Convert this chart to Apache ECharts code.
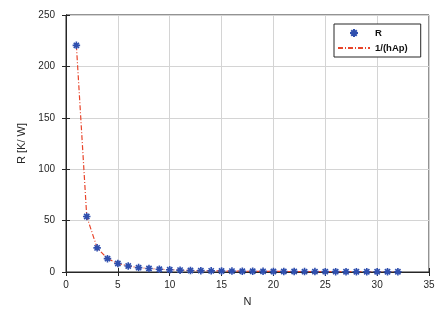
<!DOCTYPE html>
<html>
<head>
<meta charset="utf-8">
<script src="https://cdn.jsdelivr.net/npm/echarts@6/dist/echarts.min.js"></script>
<style>
html, body { margin: 0; padding: 0; background: #fff; }
#chart { width: 438px; height: 312px; }
</style>
</head>
<body>
<div id="chart"></div>
<script>
var nValues = [1, 2, 3, 4, 5, 6, 7, 8, 9, 10, 11, 12, 13, 14, 15, 16,
    17, 18, 19, 20, 21, 22, 23, 24, 25, 26, 27, 28, 29, 30, 31, 32];
var rMeasured = [220.5, 54, 23.5, 13, 8.3, 5.8, 4.3, 3.4, 2.7, 2.2, 1.8, 1.5, 1.3, 1.1, 1.0, 0.86,
    0.76, 0.68, 0.61, 0.55, 0.5, 0.46, 0.42, 0.38, 0.35, 0.33, 0.3, 0.28, 0.26, 0.25, 0.23, 0.22];
var rModel = [220.5, 54, 23.5, 13, 8.3, 5.8, 4.3, 3.4, 2.7, 2.2, 1.8, 1.5, 1.3, 1.1, 1.0, 0.86,
    0.76, 0.68, 0.61, 0.55, 0.5, 0.46, 0.42, 0.38, 0.35, 0.33, 0.3, 0.28, 0.26, 0.25, 0.23, 0.22];

var starPath = 'path://M0 5 L10 5 M5 0 L5 10 M1.5 1.5 L8.5 8.5 M1.5 8.5 L8.5 1.5';
var font = 'Liberation Sans, Arial, sans-serif';
var axisColor = '#262626';

function pairs(xs, ys) {
    return xs.map(function (x, i) { return [x, ys[i]]; });
}

var myChart = echarts.init(document.getElementById('chart'));
var option = {
    animation: false,
    textStyle: { fontFamily: font },
    grid: {
        left: 66,
        right: 9,
        top: 15,
        bottom: 38,
        show: true,
        borderColor: axisColor,
        borderWidth: 1
    },
    legend: {
        orient: 'vertical',
        left: 334,
        top: 24,
        padding: [4, 13, 4, 3],
        itemGap: 5,
        itemWidth: 32,
        itemHeight: 8,
        borderColor: axisColor,
        borderWidth: 1,
        backgroundColor: '#fff',
        textStyle: {
            fontFamily: font,
            fontSize: 9.5,
            fontWeight: 'bold',
            color: '#111'
        },
        data: [
            { name: 'R' },
            { name: '1/(hAp)', itemStyle: { opacity: 0 } }
        ]
    },
    xAxis: [{
        type: 'value',
        min: 0,
        max: 35,
        interval: 5,
        name: 'N',
        nameLocation: 'middle',
        nameGap: 24,
        nameTextStyle: { fontSize: 11, color: axisColor },
        axisLine: { show: true, lineStyle: { color: axisColor } },
        axisTick: { show: true, inside: true, length: 4, lineStyle: { color: axisColor } },
        axisLabel: { fontSize: 10, color: axisColor, margin: 8 },
        splitLine: { show: true, lineStyle: { color: '#d4d4d4' } }
    }, {
        type: 'value',
        position: 'top',
        min: 0,
        max: 35,
        interval: 5,
        axisLine: { show: true, lineStyle: { color: axisColor } },
        axisTick: { show: true, inside: true, length: 4, lineStyle: { color: axisColor } },
        axisLabel: { show: false },
        splitLine: { show: false }
    }],
    yAxis: [{
        type: 'value',
        min: 0,
        max: 250,
        interval: 50,
        name: 'R [K/ W]',
        nameLocation: 'middle',
        nameGap: 34,
        nameTextStyle: { fontSize: 11, color: axisColor },
        axisLine: { show: true, lineStyle: { color: axisColor } },
        axisTick: { show: true, inside: true, length: 4, lineStyle: { color: axisColor } },
        axisLabel: { fontSize: 10, color: axisColor, margin: 11 },
        splitLine: { show: true, lineStyle: { color: '#d4d4d4' } }
    }, {
        type: 'value',
        position: 'right',
        min: 0,
        max: 250,
        interval: 50,
        axisLine: { show: true, lineStyle: { color: axisColor } },
        axisTick: { show: true, inside: true, length: 4, lineStyle: { color: axisColor } },
        axisLabel: { show: false },
        splitLine: { show: false }
    }],
    series: [{
        name: '1/(hAp)',
        type: 'line',
        data: pairs(nValues, rModel),
        showSymbol: false,
        symbol: 'none',
        lineStyle: {
            color: '#e8442a',
            width: 1.2,
            type: [5, 2, 1, 2]
        },
        itemStyle: { color: '#e8442a' },
        z: 2
    }, {
        name: 'R',
        type: 'scatter',
        data: pairs(nValues, rMeasured),
        symbol: starPath,
        symbolSize: 7.5,
        itemStyle: {
            color: 'rgba(0,0,0,0)',
            borderColor: '#2f4fae',
            borderWidth: 1.6,
            opacity: 1
        },
        z: 3
    }]
};
myChart.setOption(option);
window.addEventListener('resize', function () {
    myChart.resize();
});
</script>
</body>
</html>
